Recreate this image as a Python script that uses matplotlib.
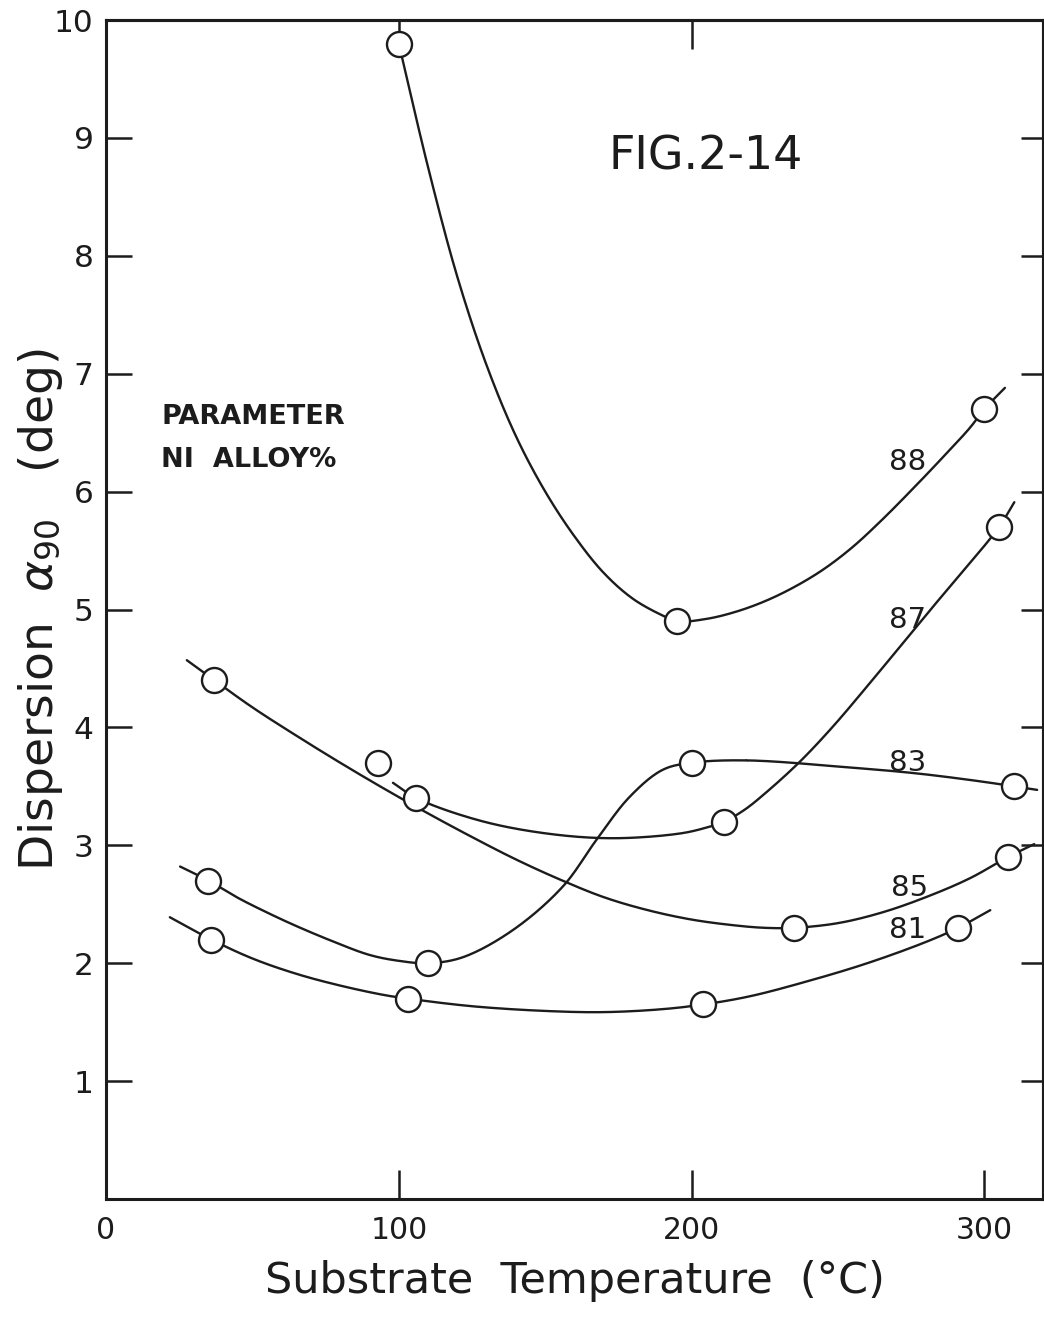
import numpy as np
import matplotlib.pyplot as plt

INK = '#1c1c1c'

# measured points: substrate temperature (degC) vs dispersion alpha90 (deg), per Ni alloy %
t88 = [100, 195, 300]
d88 = [9.8, 4.9, 6.7]
t87 = [106, 211, 305]
d87 = [3.4, 3.2, 5.7]
t83 = [35, 110, 200, 310]
d83 = [2.7, 2.0, 3.7, 3.5]
t85 = [37, 93, 235, 308]
d85 = [4.4, 3.7, 2.3, 2.9]
t81 = [36, 103, 204, 291]
d81 = [2.2, 1.7, 1.65, 2.3]

# hand-faired trend curves through each set
fit88_t = [100, 110, 120, 130, 140, 150, 160, 170, 180, 190, 195,
           205, 215, 225, 235, 245, 255, 265, 275, 285, 295, 300, 307]
fit88_d = [9.8, 8.75, 7.82, 7.07, 6.47, 6.00, 5.62, 5.31, 5.09, 4.95, 4.9,
           4.92, 4.98, 5.07, 5.19, 5.34, 5.53, 5.76, 6.01, 6.27, 6.54, 6.7, 6.88]
fit87_t = [98, 106, 127.6, 150.5, 173, 196, 205, 211, 218, 226, 237, 248, 260,
           271, 282.3, 293.9, 305, 310.2]
fit87_d = [3.53, 3.4, 3.21, 3.10, 3.06, 3.10, 3.15, 3.2, 3.30, 3.46, 3.71, 4.00, 4.35,
           4.68, 5.02, 5.36, 5.7, 5.91]
fit83_t = [25.3, 35, 45, 55, 65, 77.5, 90, 100, 110, 121.8, 138.9, 156, 167.6, 178.8,
           190.1, 200, 218.8, 253.9, 276.8, 299.3, 310, 318]
fit83_d = [2.82, 2.7, 2.555, 2.43, 2.315, 2.185, 2.07, 2.02, 2.0, 2.05, 2.28, 2.65, 3.05,
           3.41, 3.64, 3.7, 3.72, 3.66, 3.61, 3.54, 3.5, 3.47]
fit85_t = [27.6, 37, 50, 65, 80, 95, 110, 125, 140, 155, 170, 185, 200, 215, 225, 235,
           250, 265, 280, 295, 308, 317]
fit85_d = [4.57, 4.4, 4.17, 3.93, 3.70, 3.48, 3.27, 3.07, 2.88, 2.71, 2.56, 2.45, 2.37,
           2.32, 2.30, 2.3, 2.34, 2.43, 2.56, 2.72, 2.9, 3.01]
fit81_t = [21.8, 36, 50, 65, 80, 95, 103, 125, 150, 170, 190, 204, 220, 240, 260, 280,
           291, 302]
fit81_d = [2.39, 2.2, 2.04, 1.91, 1.81, 1.73, 1.7, 1.635, 1.595, 1.585, 1.61, 1.65,
           1.72, 1.85, 2.0, 2.18, 2.3, 2.45]

alloy_labels = ['88', '87', '83', '85', '81']
label_t = [273.7, 273.7, 273.7, 274.4, 273.7]
label_d = [6.25, 4.91, 3.70, 2.64, 2.28]


def smooth(t, d, n=24, sx=2.93, sy=117.9):
    # centripetal Catmull-Rom, worked out in page units so both axes weigh alike
    p = np.column_stack([np.asarray(t, float) * sx, np.asarray(d, float) * sy])
    p = np.vstack([2 * p[0] - p[1], p, 2 * p[-1] - p[-2]])
    xs, ys = [], []
    for i in range(1, len(p) - 2):
        p0, p1, p2, p3 = p[i - 1], p[i], p[i + 1], p[i + 2]
        k0 = 0.0
        k1 = k0 + max(np.linalg.norm(p1 - p0), 1e-6) ** 0.5
        k2 = k1 + max(np.linalg.norm(p2 - p1), 1e-6) ** 0.5
        k3 = k2 + max(np.linalg.norm(p3 - p2), 1e-6) ** 0.5
        u = np.linspace(k1, k2, n)[:, None]
        a1 = (k1 - u) / (k1 - k0) * p0 + (u - k0) / (k1 - k0) * p1
        a2 = (k2 - u) / (k2 - k1) * p1 + (u - k1) / (k2 - k1) * p2
        a3 = (k3 - u) / (k3 - k2) * p2 + (u - k2) / (k3 - k2) * p3
        b1 = (k2 - u) / (k2 - k0) * a1 + (u - k0) / (k2 - k0) * a2
        b2 = (k3 - u) / (k3 - k1) * a2 + (u - k1) / (k3 - k1) * a3
        c = (k2 - u) / (k2 - k1) * b1 + (u - k1) / (k2 - k1) * b2
        xs.extend(c[:, 0] / sx)
        ys.extend(c[:, 1] / sy)
    return np.array(xs), np.array(ys)


fig = plt.figure(figsize=(10.44, 13.17), dpi=100)
ax = fig.add_axes([106 / 1044, 1 - 1199 / 1317, 937 / 1044, 1179 / 1317])

fits = [(fit88_t, fit88_d), (fit87_t, fit87_d), (fit83_t, fit83_d),
        (fit85_t, fit85_d), (fit81_t, fit81_d)]
points = [(t88, d88), (t87, d87), (t83, d83), (t85, d85), (t81, d81)]

for (ft, fd), (pt, pd), name, lt, ld in zip(fits, points, alloy_labels, label_t, label_d):
    cx, cy = smooth(ft, fd)
    ax.plot(cx, cy, color=INK, lw=1.7, solid_capstyle='round', zorder=2)
    ax.plot(pt, pd, 'o', ms=18, mfc='white', mec=INK, mew=1.7, zorder=4, clip_on=False)
    ax.text(lt, ld, name, fontsize=21, color=INK, ha='center', va='center', zorder=3)

ax.set_xlim(0, 320)
ax.set_ylim(0, 10)

for s in ax.spines.values():
    s.set_linewidth(2.2)
    s.set_color(INK)

ax.set_xticks([0, 100, 200, 300])
ax.set_xticklabels(['0', '100', '200', '300'])
ax.set_yticks(range(1, 11))
ax.set_yticklabels([str(v) for v in range(1, 11)])
ax.tick_params(axis='x', direction='in', length=21, width=1.8, pad=12,
               labelsize=21.5, colors=INK)
ax.tick_params(axis='y', direction='in', length=19, width=1.8, pad=9,
               labelsize=22.5, colors=INK)

top = ax.secondary_xaxis('top')
top.set_xticks([100, 200])
top.tick_params(direction='in', length=21, width=1.8, labeltop=False, colors=INK)
top.spines['top'].set_linewidth(2.2)
right = ax.secondary_yaxis('right')
right.set_yticks(range(1, 10))
right.tick_params(direction='in', length=16, width=1.8, labelright=False, colors=INK)
right.spines['right'].set_linewidth(2.2)

ax.set_xlabel('Substrate  Temperature  (°C)', fontsize=31, color=INK)
ax.xaxis.set_label_coords(0.5, -0.052)
ax.set_ylabel(r'Dispersion  $\alpha_{90}$   (deg)', fontsize=34, color=INK)
ax.yaxis.set_label_coords(-0.044, 0.5)

ax.text(204.8, 8.84, 'FIG.2-14', fontsize=33, color=INK, ha='center', va='center')
ax.text(18.8, 6.63, 'PARAMETER', fontsize=19.5, fontweight='bold', color=INK,
        ha='left', va='center')
ax.text(18.8, 6.27, 'NI  ALLOY%', fontsize=19.5, fontweight='bold', color=INK,
        ha='left', va='center')

fig.savefig('out.png', dpi=100, facecolor='white')
